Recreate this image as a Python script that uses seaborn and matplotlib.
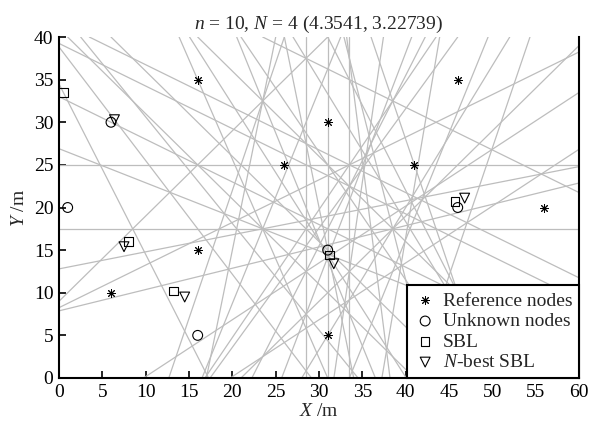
import itertools
import matplotlib
matplotlib.use('Agg')
from matplotlib import pyplot as plt
import seaborn as sns
import pandas as pd

# reference nodes (anchor positions), one hidden under the legend
ref_x = [6, 16, 16, 26, 31, 31, 41, 46, 56, 51]
ref_y = [10, 15, 35, 25, 5, 30, 25, 35, 20, 10]

# unknown nodes (true positions)
unk_x = [1, 6, 16, 31, 46]
unk_y = [20, 30, 5, 15, 20]

# SBL estimates
sbl_x = [0.5, 8.0, 13.2, 31.2, 45.7]
sbl_y = [33.5, 16.0, 10.2, 14.4, 20.7]

# N-best SBL estimates
nbest_x = [6.4, 7.5, 14.5, 31.7, 46.8]
nbest_y = [30.3, 15.4, 9.5, 13.4, 21.1]

x_ticks = list(range(0, 61, 5))
y_ticks = list(range(0, 41, 5))

sns.set_theme(style='white')
plt.rcParams['font.family'] = ['Liberation Serif', 'DejaVu Serif']
plt.rcParams['mathtext.fontset'] = 'custom'
plt.rcParams['mathtext.rm'] = 'Liberation Serif'
plt.rcParams['mathtext.it'] = 'Liberation Serif:italic'

fig = plt.figure(figsize=(5.9, 4.26), dpi=100)
ax = fig.add_axes([0.1, 0.1127, 0.8815, 0.8004])

# perpendicular bisectors of every pair of reference nodes
for i, j in itertools.combinations(range(len(ref_x)), 2):
    mx = (ref_x[i] + ref_x[j]) / 2
    my = (ref_y[i] + ref_y[j]) / 2
    dx = ref_x[j] - ref_x[i]
    dy = ref_y[j] - ref_y[i]
    ax.axline((mx, my), (mx - dy, my + dx), color='#bdbdbd', lw=0.9, zorder=1)

ref_df = pd.DataFrame({'x': ref_x, 'y': ref_y})
unk_df = pd.DataFrame({'x': unk_x, 'y': unk_y})
sbl_df = pd.DataFrame({'x': sbl_x, 'y': sbl_y})
nb_df = pd.DataFrame({'x': nbest_x, 'y': nbest_y})

sns.scatterplot(data=ref_df, x='x', y='y', ax=ax, marker=(8, 2, 0), s=32,
                color='black', linewidth=0.7, label='Reference nodes', zorder=3)
sns.scatterplot(data=unk_df, x='x', y='y', ax=ax, marker='o', s=50,
                facecolors='none', edgecolor='black', linewidth=0.8,
                label='Unknown nodes', zorder=3)
sns.scatterplot(data=sbl_df, x='x', y='y', ax=ax, marker='s', s=36,
                facecolors='none', edgecolor='black', linewidth=0.8,
                label='SBL', zorder=3)
sns.scatterplot(data=nb_df, x='x', y='y', ax=ax, marker='v', s=50,
                facecolors='none', edgecolor='black', linewidth=0.8,
                label='$N$-best SBL', zorder=3)

ax.set_xlim(0, 60)
ax.set_ylim(0, 40)
ax.set_xticks(x_ticks)
ax.set_yticks(y_ticks)
ax.tick_params(direction='in', length=5, width=1.2, labelsize=14, pad=4,
               colors='black', bottom=True, left=True)
for side in ['left', 'bottom', 'right']:
    ax.spines[side].set_visible(True)
    ax.spines[side].set_color('black')
    ax.spines[side].set_linewidth(1.5)
ax.spines['top'].set_visible(False)
ax.grid(False)

ax.set_xlabel('$X$ /m', fontsize=14, labelpad=2)
ax.set_ylabel('$Y$ /m', fontsize=14, labelpad=4)
ax.set_title('$n$ = 10, $N$ = 4 (4.3541, 3.22739)', fontsize=14, pad=6)

leg = ax.legend(loc='lower right', fontsize=14, frameon=True, fancybox=False,
                edgecolor='black', framealpha=1, borderaxespad=0,
                labelspacing=0.15, handletextpad=0.3, handlelength=1.2,
                borderpad=0.35)
leg.get_frame().set_linewidth(1.5)
leg.set_zorder(5)

fig.savefig('out.png', dpi=100)
